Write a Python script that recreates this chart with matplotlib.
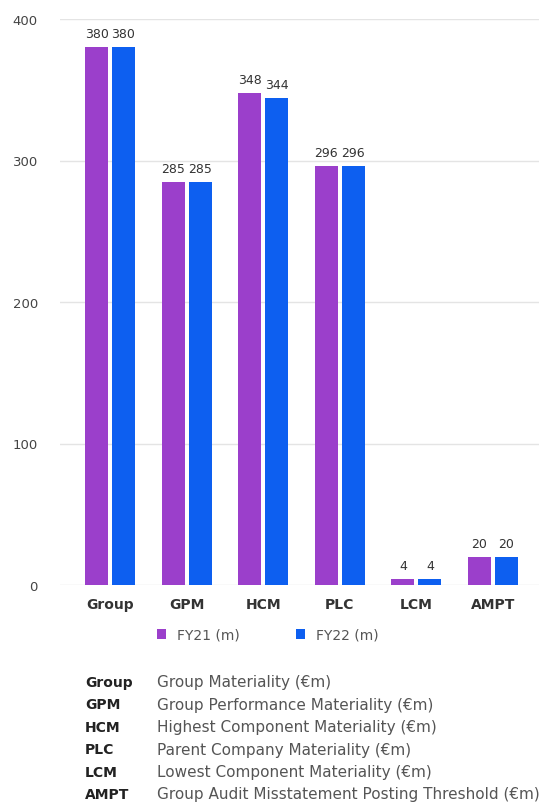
import matplotlib.pyplot as plt
import numpy as np

# Materiality figures (€m)
categories = ['Group', 'GPM', 'HCM', 'PLC', 'LCM', 'AMPT']
fy21 = [380, 285, 348, 296, 4, 20]
fy22 = [380, 285, 344, 296, 4, 20]
series_names = ['FY21 (m)', 'FY22 (m)']

glossary_keys = ['Group', 'GPM', 'HCM', 'PLC', 'LCM', 'AMPT']
glossary_text = ['Group Materiality (€m)',
                 'Group Performance Materiality (€m)',
                 'Highest Component Materiality (€m)',
                 'Parent Company Materiality (€m)',
                 'Lowest Component Materiality (€m)',
                 'Group Audit Misstatement Posting Threshold (€m)']

purple = '#9b3fcb'
blue = '#0d5ff0'
plt.rcParams['font.family'] = ['DejaVu Sans']

W, H = 539, 803
fig = plt.figure(figsize=(W / 100, H / 100), dpi=100)
ax = fig.add_axes([60 / W, (H - 586) / H, (W - 60) / W, (586 - 20) / H])

x = np.arange(len(categories))
bw = 0.30
off = 0.176
b1 = ax.bar(x - off, fy21, bw, color=purple, label=series_names[0], zorder=3)
b2 = ax.bar(x + off, fy22, bw, color=blue, label=series_names[1], zorder=3)

for bars, vals in ((b1, fy21), (b2, fy22)):
    for rect, v in zip(bars, vals):
        ax.text(rect.get_x() + rect.get_width() / 2, v + 5, str(v),
                ha='center', va='bottom', fontsize=9, color='#333333')

ax.set_ylim(0, 400)
ax.set_xlim(-0.653, 5.6)
ax.set_yticks([0, 100, 200, 300, 400])
ax.grid(axis='y', color='#e4e4e4', linewidth=1, zorder=0)
for s in ax.spines.values():
    s.set_visible(False)
ax.tick_params(axis='y', length=0, pad=16, labelsize=9.5, labelcolor='#444444')
ax.tick_params(axis='x', length=0, pad=9)
ax.set_xticks(x)
ax.set_xticklabels(categories, fontsize=10, fontweight='bold', color='#333333')

# legend row
fig.legend(handles=[b1, b2], labels=series_names, loc='center left',
           bbox_to_anchor=(144 / W, 1 - 636 / H), ncol=2, frameon=False,
           fontsize=10, handlelength=0.7, handleheight=0.7, handletextpad=0.8,
           columnspacing=4.0, labelcolor='#555555')

# abbreviation key
for i, (k, t) in enumerate(zip(glossary_keys, glossary_text)):
    yy = 1 - (683 + i * 22.4) / H
    fig.text(85 / W, yy, k, fontsize=10, fontweight='bold', color='#222222', va='center')
    fig.text(157 / W, yy, t, fontsize=11, color='#555555', va='center')

fig.savefig('out.png', dpi=100)
